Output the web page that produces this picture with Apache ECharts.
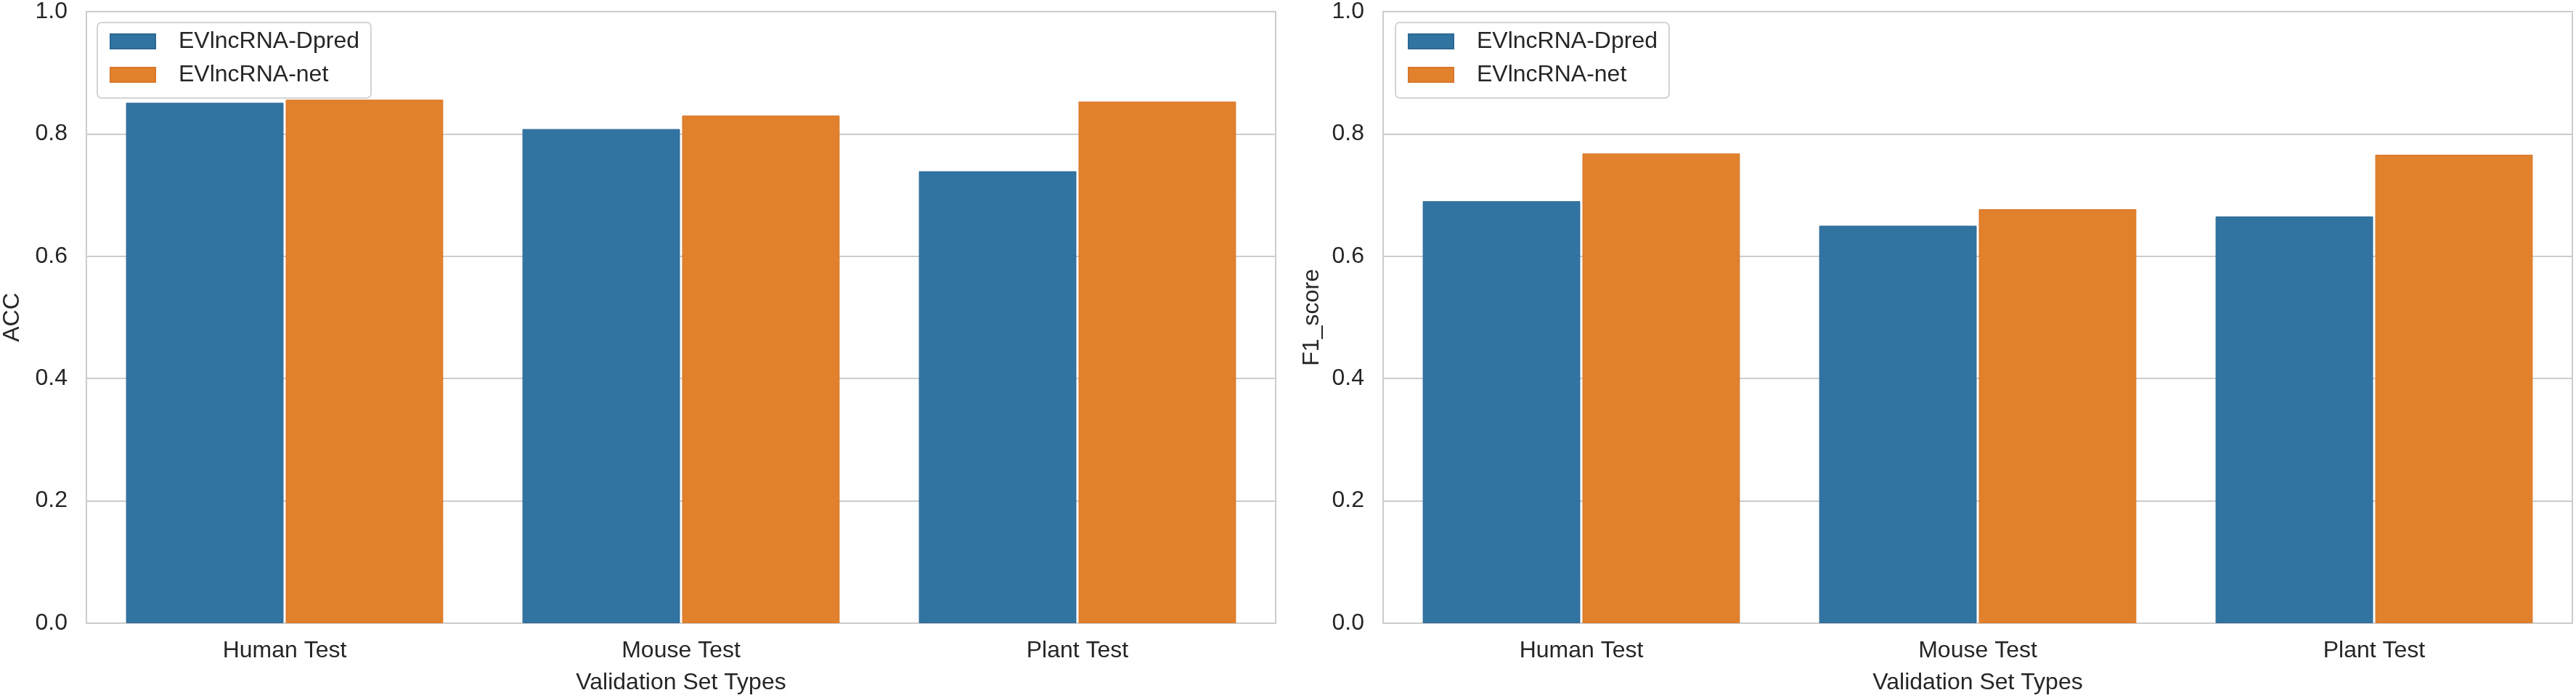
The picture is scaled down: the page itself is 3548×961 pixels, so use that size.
<!DOCTYPE html>
<html>
<head>
<meta charset="utf-8">
<script src="https://cdn.jsdelivr.net/npm/echarts@6/dist/echarts.min.js"></script>
<style>
html,body{margin:0;padding:0;background:#fff;}
#chart{width:3548px;height:961px;}
</style>
</head>
<body>
<div id="chart"></div>
<script>
var categories = ['Human Test', 'Mouse Test', 'Plant Test'];
var seriesNames = ['EVlncRNA-Dpred', 'EVlncRNA-net'];
var accDpred = [0.851, 0.808, 0.739];
var accNet = [0.856, 0.830, 0.853];
var f1Dpred = [0.690, 0.650, 0.665];
var f1Net = [0.768, 0.677, 0.766];
var yTicks = [0.0, 0.2, 0.4, 0.6, 0.8, 1.0];
var yNames = ['ACC', 'F1_score'];
var xName = 'Validation Set Types';

var FONT = '"Liberation Sans", Arial, sans-serif';
var TEXT = '#262626';
var GRIDC = '#cccccc';
var colors = ['#3274a1', '#e1812c'];
var edges = ['#2b6894', '#d8762a'];

var chart = echarts.init(document.getElementById('chart'), null, {renderer: 'canvas'});

function makeLegend(left) {
  return {
    orient: 'vertical', left: left, top: 31,
    data: seriesNames, icon: 'rect',
    itemWidth: 62, itemHeight: 20, itemGap: 14,
    padding: [10, 16, 16, 17],
    borderColor: '#d4d4d4', borderWidth: 2, borderRadius: 6,
    backgroundColor: '#ffffff',
    selectedMode: false,
    textStyle: {fontSize: 32, fontFamily: FONT, color: TEXT, padding: [0, 0, 0, 27]}
  };
}

var grids = [
  {left: 119, top: 14, width: 1638, height: 845, show: true, borderColor: GRIDC, borderWidth: 2, backgroundColor: 'transparent'},
  {left: 1905, top: 14, width: 1638, height: 845, show: true, borderColor: GRIDC, borderWidth: 2, backgroundColor: 'transparent'}
];

function makeX(i) {
  return {
    type: 'category', gridIndex: i, data: categories,
    name: xName, nameLocation: 'middle', nameGap: 66,
    nameTextStyle: {fontSize: 32, fontFamily: FONT, color: TEXT},
    axisTick: {show: false},
    axisLine: {show: true, lineStyle: {color: GRIDC, width: 2}},
    axisLabel: {fontSize: 32, fontFamily: FONT, color: TEXT, margin: 22},
    splitLine: {show: false}
  };
}
function makeY(i, gap) {
  return {
    type: 'value', gridIndex: i, min: yTicks[0], max: yTicks[yTicks.length - 1], interval: 0.2,
    name: yNames[i], nameLocation: 'middle', nameRotate: 90, nameGap: gap,
    nameTextStyle: {fontSize: 32, fontFamily: FONT, color: TEXT},
    axisLine: {show: false}, axisTick: {show: false},
    axisLabel: {fontSize: 32, fontFamily: FONT, color: TEXT, margin: 26, formatter: function (v) { return v.toFixed(1); }},
    splitLine: {show: true, lineStyle: {color: GRIDC, width: 2}}
  };
}
function makeBar(name, data, idx, gi) {
  return {
    type: 'bar', name: name, data: data, xAxisIndex: gi, yAxisIndex: gi,
    barCategoryGap: '20%', barGap: '1.4%',
    itemStyle: {color: colors[idx], borderColor: edges[idx], borderWidth: 1},
    emphasis: {disabled: true},
    animation: false
  };
}

chart.setOption({
  backgroundColor: '#ffffff',
  animation: false,
  legend: [makeLegend(134), makeLegend(1922)],
  grid: grids,
  xAxis: [makeX(0), makeX(1)],
  yAxis: [makeY(0, 86), makeY(1, 82)],
  series: [
    makeBar(seriesNames[0], accDpred, 0, 0),
    makeBar(seriesNames[1], accNet, 1, 0),
    makeBar(seriesNames[0], f1Dpred, 0, 1),
    makeBar(seriesNames[1], f1Net, 1, 1)
  ]
});
</script>
</body>
</html>
